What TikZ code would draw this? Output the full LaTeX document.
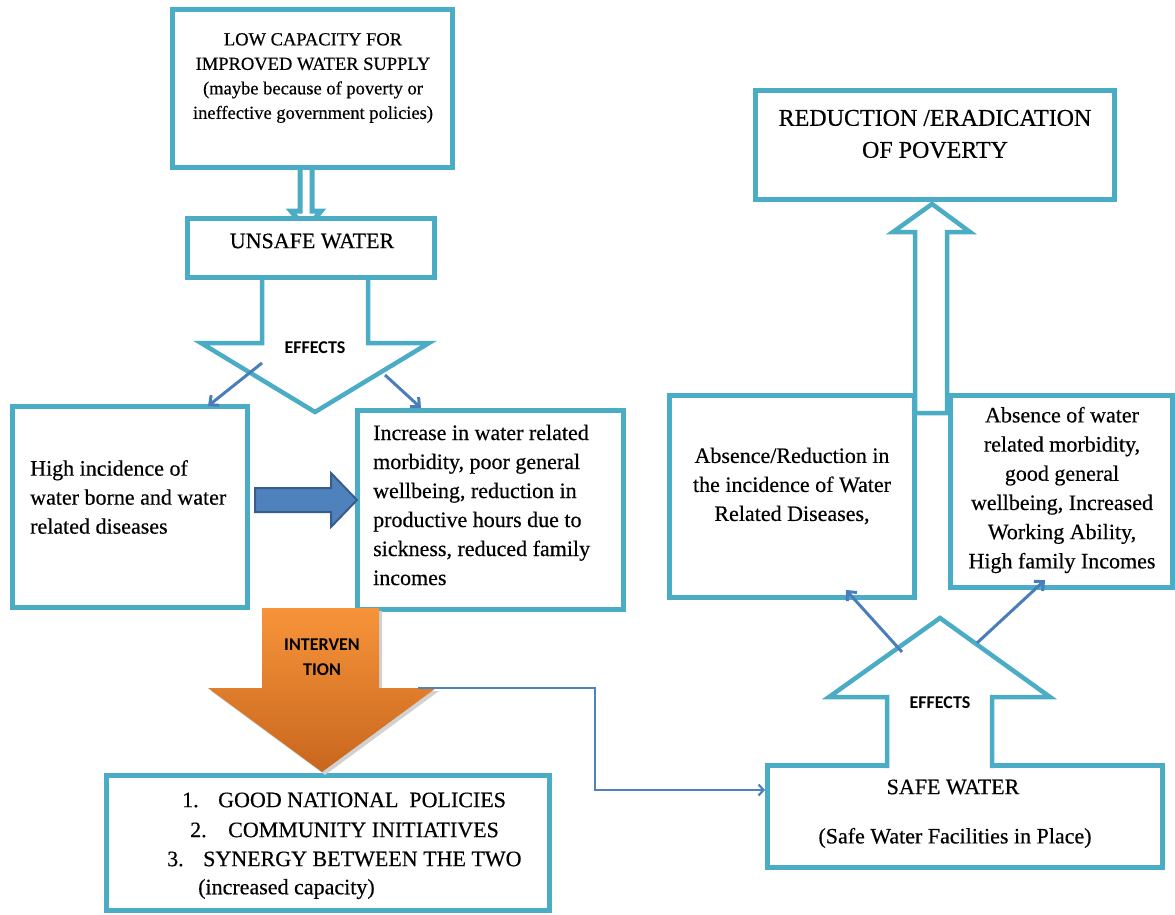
\documentclass[tikz,border=0pt]{standalone}
\usepackage{fontspec}
\setmainfont{Liberation Serif}[FakeBold=0.4]
\newfontfamily\calib{Carlito}
\usetikzlibrary{arrows.meta}
\definecolor{boxteal}{HTML}{4BACC6}
\definecolor{arrblue}{HTML}{4A7EBB}
\definecolor{blkfill}{HTML}{4F81BD}
\definecolor{blkedge}{HTML}{385D8A}
\definecolor{orT}{HTML}{F7943A}
\definecolor{orB}{HTML}{C8661E}
\tikzset{
  box/.style={draw=boxteal, line width=5pt, fill=white, inner sep=0pt},
  blockarrow/.style={draw=boxteal, line width=4.5pt, fill=white, line join=miter},
  body/.style={font=\fontsize{22}{29}\selectfont, inner sep=0pt},
  small/.style={font=\fontsize{18.5}{24.5}\selectfont, inner sep=0pt, align=center},
  lbl/.style={font=\calib\bfseries\fontsize{18}{25}\selectfont, inner sep=0pt, align=center},
  thinarrow/.style={draw=arrblue, line width=3pt, -{Straight Barb[length=7pt,width=13pt,line width=3pt]}},
  conn/.style={draw=blkfill, line width=2.2pt, -{Straight Barb[length=5pt,width=11pt,line width=2.2pt]}}
}
\begin{document}
\begin{tikzpicture}[x=1pt,y=-1pt]
\useasboundingbox (0,0) rectangle (1175,915);

% ---------- block arrows drawn beneath boxes ----------
% small double-line arrow from top box to unsafe water
\draw[blockarrow, line width=5pt] (300,160) -- (300,211) -- (291,211) -- (306,229) -- (321,211) -- (312,211) -- (312,160);
% effects arrow (down)
\draw[blockarrow] (262,277) -- (262,343) -- (201,343) -- (315,412) -- (429,343) -- (368,343) -- (368,277) -- cycle;

% ---------- boxes ----------
\node[box, minimum width=280pt, minimum height=158pt] (top) at (312.5,88.5) {};
\node[box, minimum width=247pt, minimum height=59pt] (unsafe) at (311,248) {};
\node[box, minimum width=235pt, minimum height=201pt] (high) at (130,507) {};
\node[box, minimum width=266pt, minimum height=199pt] (incr) at (490.5,510) {};
\node[box, minimum width=443pt, minimum height=135pt] (policy) at (328,843) {};
\node[box, minimum width=395pt, minimum height=102pt] (safe) at (965,816.5) {};
\node[box, minimum width=245pt, minimum height=202pt] (absred) at (792,496.5) {};
\node[box, minimum width=222pt, minimum height=192pt] (absmor) at (1061.5,491.5) {};
\node[box, minimum width=359pt, minimum height=109pt] (pov) at (935,145) {};

% ---------- texts ----------
\node[small] (toptext) at (313,78) {LOW CAPACITY FOR\\IMPROVED WATER SUPPLY\\(maybe because of poverty or\\ineffective government policies)};
\node[body] (unsafetext) at (312,241) {UNSAFE WATER};
\node[body, anchor=west, align=left] (hightext) at (30,497) {High incidence of\\water borne and water\\related diseases};
\node[body, anchor=west, align=left] (incrtext) at (373,505) {Increase in water related\\morbidity, poor general\\wellbeing, reduction in\\productive hours due to\\sickness, reduced family\\incomes};
\node[body, align=center] (absredtext) at (792,486) {Absence/Reduction in\\the incidence of Water\\Related Diseases,};
\node[body, align=center, font=\fontsize{22}{29.2}\selectfont] (absmortext) at (1062,490) {Absence of water\\related morbidity,\\good general\\wellbeing, Increased\\Working Ability,\\High family Incomes};
\node[body, align=center, font=\fontsize{24}{32}\selectfont] (povtext) at (935,134) {REDUCTION /ERADICATION\\OF POVERTY};
\node[body] (safetext) at (953,787) {SAFE WATER};
\node[body] (safesub) at (955,838) {(Safe Water Facilities in Place)};
\node[body, anchor=west] (pol1) at (182,800) {1.\hspace{19.5pt}GOOD NATIONAL\ \ POLICIES};
\node[body, anchor=west] (pol2) at (190,830) {2.\hspace{21.5pt}COMMUNITY INITIATIVES};
\node[body, anchor=west] (pol3) at (167,859) {3.\hspace{19.5pt}SYNERGY BETWEEN THE TWO};
\node[body, anchor=west] (pol4) at (198,889) {(increased capacity)};

% label of left effects arrow
\node[lbl] (eff1) at (315,348) {EFFECTS};

% ---------- blue block arrow ----------
\draw[fill=blkfill, draw=blkedge, line width=2pt, line join=miter]
  (255,488) -- (331,488) -- (331,473) -- (357,500) -- (331,527) -- (331,512) -- (255,512) -- cycle;

% ---------- orange intervention arrow ----------
\fill[black!18] (265,611) -- (382,611) -- (382,691) -- (439,691) -- (325,775) -- (211,691) -- (265,691) -- cycle;
\shade[top color=orT, bottom color=orB]
  (262,608) -- (379,608) -- (379,688) -- (436,688) -- (322,772) -- (208,688) -- (262,688) -- cycle;
\node[lbl] (interv) at (322,657) {INTERVEN\\TION};

% ---------- up arrow: safe water effects ----------
\fill[white] (887,768) -- (887,697) -- (829,697) -- (940,618) -- (1050,697) -- (992,697) -- (992,768) -- cycle;
\draw[blockarrow, fill=none] (887,768) -- (887,697) -- (829,697) -- (940,618) -- (1050,697) -- (992,697) -- (992,768);
\node[lbl] (eff2) at (940,703) {EFFECTS};

% ---------- up arrow to poverty ----------
\draw[blockarrow] (915,413) -- (915,232) -- (893,232) -- (932,204) -- (970,232) -- (947,232) -- (947,413) -- cycle;

% ---------- thin arrows ----------
\coordinate (a1) at (262,363);
\coordinate (a2) at (385,375);
\coordinate (b1) at (902,652);
\coordinate (b2) at (977,643);
\draw[thinarrow] (a1) -- (208,406);
\draw[thinarrow] (a2) -- (421,408);
\draw[thinarrow] (b1) -- (846,590);
\draw[thinarrow] (b2) -- (1045,580);

% ---------- connector intervention -> safe water ----------
\coordinate (c0) at (418,688);
\draw[conn] (c0) -- (595,688) -- (595,790) -- (safe.west |- 0,790);
\end{tikzpicture}
\end{document}
